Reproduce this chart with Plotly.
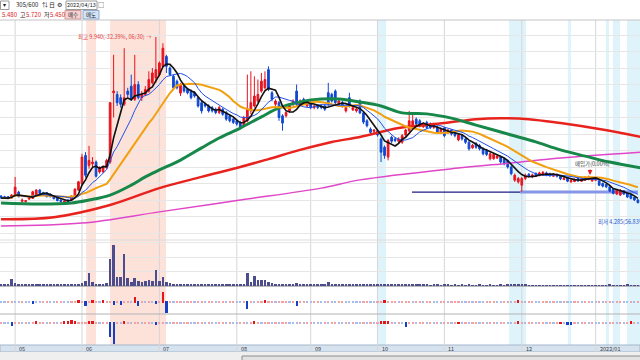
import plotly.graph_objects as go
import pandas as pd

# ---------------- data (trading-day index 0..181, late Apr 2021 .. mid Jan 2022) ----------------
opens = [5.12,5.10,5.10,5.06,5.12,5.24,4.96,4.95,5.03,5.05,
5.15,5.30,5.22,5.22,5.18,5.10,5.05,5.00,4.93,5.00,
5.00,5.10,5.30,5.50,6.35,6.05,6.10,6.15,5.85,5.85,
5.97,6.15,8.25,8.20,8.10,7.90,8.30,8.45,8.05,8.50,
8.10,8.20,8.30,8.55,8.70,8.80,9.05,9.35,9.00,8.75,
8.60,8.24,8.45,8.35,8.30,8.25,8.10,7.95,7.90,7.85,
7.80,7.75,7.65,7.75,7.65,7.55,7.45,7.40,7.35,7.25,
7.40,7.70,7.85,8.00,8.30,8.40,8.95,8.25,7.90,7.95,
7.55,7.55,7.70,7.90,8.30,7.90,8.05,7.85,7.95,7.80,
7.85,7.85,7.85,8.25,8.20,8.30,7.90,7.95,7.70,8.10,
7.73,7.70,8.00,7.64,7.40,7.15,7.08,7.10,6.85,6.60,
6.30,6.90,6.85,6.78,6.75,6.97,7.10,7.25,7.45,7.40,
7.22,7.35,7.30,7.20,7.20,7.03,7.18,7.05,7.12,7.00,
6.82,6.95,6.85,6.75,6.58,6.72,6.65,6.55,6.50,6.25,
6.25,6.27,6.30,6.25,6.20,6.00,5.60,5.55,5.45,5.65,
5.78,5.70,5.80,5.74,5.76,5.82,5.80,5.72,5.78,5.72,
5.62,5.68,5.55,5.56,5.65,5.57,5.60,5.63,5.58,5.60,
5.58,5.50,5.47,5.40,5.33,5.18,5.15,5.28,5.20,5.15,
5.08,5.00]

highs = [5.15,5.13,5.12,5.18,5.70,5.28,5.05,5.00,5.12,5.28,
5.33,5.33,5.25,5.24,5.20,5.12,5.07,5.02,4.99,5.02,
5.14,5.35,5.58,6.40,6.45,6.64,6.30,6.20,6.02,6.05,
6.25,7.95,9.40,8.30,8.20,9.60,8.40,8.80,9.40,8.60,
8.30,8.45,8.90,9.00,9.94,9.20,9.75,9.40,9.05,8.80,
8.65,8.55,8.50,8.40,8.35,8.30,8.15,8.00,7.95,7.90,
7.85,7.80,7.85,7.80,7.70,7.60,7.50,7.45,7.40,7.55,
8.80,8.90,8.75,8.65,8.85,8.90,9.05,8.30,8.05,8.00,
7.60,7.70,7.90,8.05,8.50,8.05,8.10,8.00,8.00,7.90,
7.90,7.90,7.90,8.55,8.25,8.35,8.05,8.00,7.85,8.25,
7.85,7.80,8.05,7.68,7.45,7.20,7.15,7.15,6.90,6.65,
6.85,6.95,6.90,6.90,7.00,7.15,7.70,7.60,7.50,7.45,
7.35,7.40,7.35,7.30,7.25,7.20,7.22,7.15,7.15,7.05,
7.00,7.00,6.90,6.80,6.70,6.75,6.70,6.60,6.55,6.45,
6.42,6.36,6.35,6.28,6.22,6.05,5.80,5.70,5.70,5.80,
5.82,5.80,5.84,5.86,5.88,5.86,5.83,5.82,5.80,5.75,
5.70,5.70,5.64,5.66,5.68,5.68,5.72,5.74,5.70,5.70,
5.62,5.53,5.50,5.42,5.36,5.33,5.33,5.30,5.22,5.17,
5.10,5.03]

lows = [5.04,5.04,5.02,5.04,5.10,5.08,4.88,4.92,5.00,5.03,
5.12,5.18,5.13,5.08,5.08,5.02,4.96,4.93,4.90,4.92,
4.98,5.08,5.28,5.45,5.68,5.95,6.00,5.68,5.80,5.82,
5.95,6.10,7.50,7.85,7.80,7.85,8.10,8.00,8.00,8.05,
8.00,8.15,8.25,8.50,8.55,8.75,9.00,8.85,8.75,8.35,
8.35,8.15,8.25,8.20,8.05,8.10,7.80,7.62,7.80,7.65,
7.65,7.60,7.60,7.55,7.40,7.35,7.30,7.25,7.15,7.20,
7.35,7.60,7.80,7.95,8.25,8.35,8.30,8.00,7.85,7.40,
7.10,7.50,7.65,7.85,7.85,7.85,7.90,7.80,7.75,7.75,
7.75,7.75,7.70,7.85,7.95,7.90,7.85,7.80,7.65,7.80,
7.70,7.65,7.60,7.30,7.20,7.00,7.02,6.92,6.15,6.25,
6.20,6.72,6.75,6.72,6.70,6.92,7.05,7.20,7.25,7.20,
7.18,7.15,7.15,7.15,7.00,7.00,6.90,7.00,6.95,6.90,
6.78,6.80,6.70,6.50,6.55,6.55,6.50,6.35,6.33,6.20,
6.22,6.24,6.10,6.05,5.95,5.75,5.55,5.50,5.25,5.60,
5.68,5.66,5.70,5.72,5.74,5.72,5.70,5.70,5.68,5.60,
5.60,5.54,5.52,5.54,5.55,5.55,5.58,5.60,5.55,5.57,
5.42,5.38,5.36,5.24,5.17,5.15,5.12,5.15,5.06,5.02,
4.97,4.90]

closes = [5.06,5.06,5.05,5.15,5.39,5.10,5.00,4.98,5.10,5.25,
5.30,5.20,5.15,5.10,5.10,5.04,4.98,4.95,4.97,4.94,
5.12,5.33,5.55,6.30,5.75,6.20,6.15,5.72,5.98,6.00,
6.20,7.95,8.30,7.95,7.90,8.10,8.20,8.05,8.50,8.10,
8.20,8.35,8.65,8.85,8.95,9.15,9.60,9.05,8.80,8.40,
8.40,8.50,8.30,8.25,8.10,8.15,7.85,7.70,7.85,7.70,
7.70,7.65,7.80,7.60,7.45,7.40,7.35,7.30,7.20,7.50,
7.75,7.95,8.15,8.20,8.60,8.65,8.35,8.05,8.00,7.50,
7.33,7.65,7.85,8.00,7.90,8.00,7.95,7.95,7.80,7.85,
7.80,7.80,7.75,7.90,8.00,7.95,8.00,7.85,7.80,7.85,
7.80,7.76,7.64,7.36,7.25,7.05,7.12,6.97,6.45,6.35,
6.80,6.78,6.80,6.85,6.95,7.12,7.40,7.40,7.30,7.25,
7.30,7.20,7.20,7.27,7.05,7.15,6.95,7.12,7.00,6.95,
6.97,6.85,6.75,6.55,6.66,6.60,6.55,6.40,6.38,6.40,
6.38,6.33,6.15,6.10,6.00,5.80,5.75,5.65,5.65,5.75,
5.72,5.76,5.74,5.82,5.84,5.76,5.74,5.78,5.72,5.64,
5.66,5.57,5.60,5.62,5.58,5.64,5.68,5.70,5.66,5.67,
5.45,5.42,5.40,5.27,5.20,5.30,5.30,5.18,5.09,5.05,
5.00,4.92]

volume = [0.12,0.10,0.15,0.50,0.20,0.12,0.10,0.08,0.10,0.12,
0.15,0.10,0.08,0.08,0.07,0.07,0.08,0.07,0.08,0.07,
0.10,0.12,0.15,0.20,0.35,0.90,0.25,0.15,0.12,0.12,
0.20,1.90,2.85,0.60,0.60,2.20,0.55,0.30,0.55,0.35,
0.28,0.35,0.40,0.35,1.10,0.35,0.60,0.25,0.20,0.15,
0.15,0.15,0.12,0.10,0.10,0.10,0.12,0.10,0.08,0.08,
0.08,0.08,0.07,0.08,0.08,0.07,0.07,0.08,0.10,0.15,
0.90,0.30,0.70,0.40,0.40,0.40,0.30,0.20,0.15,0.15,
0.12,0.10,0.10,0.10,0.20,0.10,0.08,0.08,0.07,0.08,
0.08,0.07,0.08,0.30,0.15,0.12,0.10,0.08,0.07,0.10,
0.08,0.08,0.10,0.08,0.08,0.08,0.07,0.07,0.12,0.08,
0.08,0.07,0.07,0.07,0.07,0.08,0.12,0.08,0.07,0.07,
0.07,0.07,0.06,0.07,0.07,0.06,0.07,0.07,0.06,0.07,
0.06,0.07,0.06,0.07,0.06,0.06,0.07,0.06,0.06,0.07,
0.06,0.06,0.07,0.06,0.07,0.07,0.08,0.07,0.07,0.07,
0.06,0.06,0.06,0.06,0.06,0.06,0.06,0.06,0.06,0.06,
0.06,0.06,0.06,0.06,0.06,0.06,0.06,0.06,0.06,0.06,
0.06,0.06,0.06,0.07,0.06,0.06,0.06,0.06,0.07,0.06,
0.06,0.06]

flow_a = [-1,-1,1,1,-1,-1,1,-1,-1,-2,-1,-1,1,1,-1,-1,1,1,-1,-1,
1,1,2.5,1,-3.7,1,2,1,-1,2,1,1,-3,1,-3,1,1,-1,4.7,-3.7,
1,-1,1,-1,-2,1,10.5,-11,1,-1,1,1,-1,1,1,-1,1,1,-1,1,
1,-1,1,1,-1,1,1,-1,-1,1,-7,1,-1,1,1,2,1,1,-1,1,
1,1,-1,1,-4,1,1,-1,-1,1,1,-1,-1,1,-1,-1,1,1,-1,-1,
-1,-1,-1,1,1,-1,-1,1,1,2,1,1,1,-1,1,1,1,-1,1,1,
-1,1,1,-1,-1,1,1,-1,1,1,1,-1,-1,1,-1,1,-1,-1,1,1,
1,-1,-1,1,1,-1,1,2,1,-1,1,1,-1,-1,1,1,-1,1,-1,-1,
1,-1,-1,1,1,-1,1,1,-1,-1,1,-1,1,1,-1,1,1,-1,-1,1,
-1,1]

flow_b = [1,-1,-1,-3,1,1,-1,1,-1,1,2,1,1,-1,1,1,-1,1,2,2,
3,2,1,1,1,2,2,1,-1,1,1,-14,-21,1,-1,2,1,-1,1,1,
-1,1,1,-1,-2,1,1,-1,-1,1,1,-1,1,1,-1,-1,1,1,-1,1,
-1,-1,1,1,-1,1,-1,-1,1,1,-1,1,2,1,-1,1,1,-1,1,-1,
1,1,-1,-1,-1,1,-1,1,1,-1,-1,-1,1,-1,1,1,-1,-1,1,-1,
1,-1,-1,1,-1,1,-1,1,2,2,2,1,-1,1,-1,-4,1,1,-1,1,
1,-1,1,-1,1,-1,1,1,-1,1,1.5,-1,1,-1,1,1,-1,1,-1,1,
1,-1,1,1,-1,-1,1,2,1,-1,1,1,-1,1,1,-1,1,-1,1,1.5,
-1,-1.5,-1.5,1,-1,1,1,-1,1,-1,-1,1,-1,1,1,-1,1,-1,1,2,
1,-1]

# long moving averages at sample days
ma60_days = [0,11,20,25,31,37,41,45,51,57,62,68,74,79,85,91,96,102,108,114,121,128,135,145,152,159,166,173,182]
ma60_vals = [4.91,4.88,4.91,5.00,5.15,5.45,5.70,5.91,6.21,6.58,6.88,7.18,7.52,7.79,7.97,8.06,8.06,7.97,7.85,7.64,7.61,7.48,7.27,6.97,6.76,6.52,6.33,6.15,5.97]
ma120_days = [0,15,31,45,57,68,76,85,94,102,113,126,135,142,150,159,170,182]
ma120_vals = [4.42,4.48,4.85,5.36,5.70,6.00,6.24,6.52,6.76,6.91,7.18,7.33,7.45,7.48,7.45,7.33,7.15,6.91]
ma240_days = [0,23,45,68,91,102,130,145,159,182]
ma240_vals = [4.21,4.30,4.64,5.00,5.36,5.61,5.97,6.12,6.27,6.45]

month_ticks = [4, 23, 45, 67, 88, 107, 126, 148, 169]
month_labels = ["05", "06", "07", "08", "09", "10", "11", "12", "2022/01"]

pink_bands = [(24.2, 27.0), (31.0, 46.9)]
blue_bands = [(107.1, 109.4), (144.4, 149.2), (161.1, 162.0), (171.9, 172.8), (173.9, 175.9), (177.9, 181.8)]

support_price = 5.24

# ---------------- figure ----------------
RED = "#e8141e"
BLUE = "#1048d0"
FONT = "Noto Sans CJK KR, Noto Sans, sans-serif"
W, H = 640, 360

def py(px):
    return 1 - px / H

def pxx(px):
    return px / W

idx = list(range(len(closes)))
cs = pd.Series(closes)
ma5 = cs.rolling(5, min_periods=1).mean()
ma10 = cs.rolling(10, min_periods=1).mean()
ma20 = cs.rolling(20, min_periods=1).mean()

fig = go.Figure()

fig.add_trace(go.Scatter(x=ma240_days, y=ma240_vals, mode="lines", line=dict(color="#e046c8", width=1.5, shape="spline"), yaxis="y", hoverinfo="skip"))
fig.add_trace(go.Scatter(x=ma120_days, y=ma120_vals, mode="lines", line=dict(color="#e8231e", width=2.5, shape="spline"), yaxis="y", hoverinfo="skip"))
fig.add_trace(go.Scatter(x=ma60_days, y=ma60_vals, mode="lines", line=dict(color="#17884a", width=3, shape="spline"), yaxis="y", hoverinfo="skip"))
fig.add_trace(go.Scatter(x=idx, y=ma20, mode="lines", line=dict(color="#f0a010", width=2), yaxis="y", hoverinfo="skip"))

fig.add_trace(go.Candlestick(
    x=idx, open=opens, high=highs, low=lows, close=closes,
    increasing=dict(line=dict(color=RED, width=1), fillcolor=RED),
    decreasing=dict(line=dict(color=BLUE, width=1), fillcolor=BLUE),
    whiskerwidth=0, yaxis="y", hoverinfo="skip"))

fig.add_trace(go.Scatter(x=idx, y=ma10, mode="lines", line=dict(color="#2050e8", width=1), yaxis="y", hoverinfo="skip"))
fig.add_trace(go.Scatter(x=idx, y=ma5, mode="lines", line=dict(color="#111111", width=1.6), yaxis="y", hoverinfo="skip"))

fig.add_trace(go.Bar(x=idx, y=volume, width=0.72, marker=dict(color="#4d4d8e", line=dict(width=0)), yaxis="y2", hoverinfo="skip"))

def pcolor(v):
    if v >= 1.5:
        return "#e3161c"
    if v > 0:
        return "#f2a2a2"
    if v <= -1.5:
        return "#1440c8"
    return "#a6bcef"

for vals, ax in ((flow_a, "y3"), (flow_b, "y4")):
    base = [-0.7 if v > 0 else 0.7 for v in vals]
    length = [v + 0.7 if v > 0 else v - 0.7 for v in vals]
    fig.add_trace(go.Bar(x=idx, y=length, base=base, width=0.62,
                         marker=dict(color=[pcolor(v) for v in vals], line=dict(width=0)),
                         yaxis=ax, hoverinfo="skip"))

shapes = []
for a, b in pink_bands:
    shapes.append(dict(type="rect", xref="x", yref="paper", x0=a, x1=b, y0=py(345), y1=py(20),
                       fillcolor="#fde2da", line=dict(width=0), layer="below"))
for a, b in blue_bands:
    shapes.append(dict(type="rect", xref="x", yref="paper", x0=a, x1=b, y0=py(345), y1=py(20),
                       fillcolor="#dff3fb", line=dict(width=0), layer="below"))
shapes.append(dict(type="rect", xref="paper", yref="paper", x0=0, x1=1, y0=py(352), y1=py(345),
                   fillcolor="#d6e2ee", line=dict(color="#a3b7cb", width=1), layer="below"))
shapes.append(dict(type="rect", xref="paper", yref="paper", x0=0, x1=1, y0=0, y1=py(352),
                   fillcolor="#efefef", line=dict(width=0), layer="below"))
shapes.append(dict(type="rect", xref="paper", yref="paper", x0=pxx(242), x1=1.01, y0=-0.01, y1=py(356),
                   fillcolor="#e2e2e2", line=dict(color="#8c8c8c", width=1), layer="above"))
for t in month_ticks:
    shapes.append(dict(type="line", xref="x", yref="paper", x0=t, x1=t, y0=py(352), y1=py(20),
                       line=dict(color="#d6d6d6", width=1), layer="below"))
shapes.append(dict(type="line", xref="paper", yref="paper", x0=0, x1=1, y0=py(20), y1=py(20), line=dict(color="#c4c4c4", width=1)))
shapes.append(dict(type="line", xref="paper", yref="paper", x0=0, x1=1, y0=py(240), y1=py(240), line=dict(color="#dcdcdc", width=1), layer="below"))
shapes.append(dict(type="line", xref="paper", yref="paper", x0=0, x1=1, y0=py(286), y1=py(286), line=dict(color="#a4a4a4", width=1.5), layer="below"))
shapes.append(dict(type="line", xref="paper", yref="paper", x0=0, x1=1, y0=py(314), y1=py(314), line=dict(color="#b4b4b4", width=1.2), layer="below"))
shapes.append(dict(type="line", xref="x", yref="y", x0=116.8, x1=147.5, y0=support_price, y1=support_price,
                   line=dict(color="#1c1c80", width=1.2), layer="below"))
shapes.append(dict(type="line", xref="x", yref="y", x0=147.5, x1=181.0, y0=support_price, y1=support_price,
                   line=dict(color="#8696e6", width=3), layer="below"))
# header boxes
shapes.append(dict(type="rect", xref="paper", yref="paper", x0=pxx(0.5), x1=pxx(9), y0=py(9.5), y1=py(1),
                   fillcolor="white", line=dict(color="#9a9a9a", width=1)))
shapes.append(dict(type="rect", xref="paper", yref="paper", x0=pxx(66), x1=pxx(97), y0=py(9.5), y1=py(1),
                   fillcolor="white", line=dict(color="#9a9a9a", width=1)))
shapes.append(dict(type="rect", xref="paper", yref="paper", x0=pxx(65), x1=pxx(81), y0=py(19), y1=py(10.5),
                   fillcolor="#f7d2d2", line=dict(color="#cf9a9a", width=1)))
shapes.append(dict(type="rect", xref="paper", yref="paper", x0=pxx(83), x1=pxx(99), y0=py(19), y1=py(10.5),
                   fillcolor="#d3e4f7", line=dict(color="#93acd0", width=1)))

ann = []
def txt(x, y, s, color="#222", size=6, anchor="left", xref="paper", yref="paper", **kw):
    d = dict(x=x, y=y, text=s, showarrow=False, xref=xref, yref=yref, xanchor=anchor, yanchor="middle",
             font=dict(family=FONT, size=size, color=color))
    d.update(kw)
    ann.append(d)

# header row 1
txt(pxx(4.8), py(5), "▾", size=6, anchor="center")
txt(pxx(14), py(5), "305/600", size=6)
txt(pxx(45), py(5), "⇅", size=6, anchor="center")
txt(pxx(52), py(5), "日", size=6, anchor="center")
txt(pxx(59), py(5), "⚙", size=6, anchor="center")
txt(pxx(81.5), py(5), "2022/04/13", size=5.5, anchor="center")
txt(pxx(101), py(5), "□", size=6, anchor="center")
# header row 2
txt(pxx(0), py(14.5), "5.480", color="#e02020", size=6)
txt(pxx(17.5), py(14.5), "고", size=6)
txt(pxx(24), py(14.5), "5.720", color="#e02020", size=6)
txt(pxx(41.5), py(14.5), "저", size=6)
txt(pxx(48), py(14.5), "5.450", color="#e02020", size=6)
txt(pxx(73), py(14.7), "매수", size=5.5, anchor="center")
txt(pxx(91), py(14.7), "매도", size=5.5, anchor="center")

for t, lab in zip(month_ticks, month_labels):
    txt(t, py(348.6), lab, color="#3a3a3a", size=5.5, xref="x", xshift=2)

txt(44, 9.94, "최고 9.940(-32.39%, 06/30) →", color="#e43a3a", size=5.5, anchor="right", xref="x", yref="y", xshift=-2)
txt(169, 4.285, "최저 4.285(56.83%,", color="#2a52c8", size=5.5, anchor="left", xref="x", yref="y", yshift=2)
txt(168.2, 6.09, "매입가(0.00%)", color="#454545", size=5.5, anchor="center", xref="x", yref="y")
ann.append(dict(x=167.4, y=5.76, xref="x", yref="y", text="", showarrow=True, ax=0, ay=-7,
                arrowhead=2, arrowsize=0.8, arrowwidth=1.2, arrowcolor="#e02020"))

fig.update_layout(
    width=W, height=H, margin=dict(l=0, r=0, t=0, b=0),
    paper_bgcolor="white", plot_bgcolor="white", showlegend=False, bargap=0,
    xaxis=dict(domain=[0, 1], range=[-0.3, 181.6], showgrid=False, zeroline=False,
               showticklabels=False, ticks="", rangeslider=dict(visible=False), fixedrange=True),
    yaxis=dict(domain=[py(240), py(20)], range=[(365 - 240) / 33, (365 - 20) / 33], dtick=0.5, tick0=0,
               showgrid=True, gridcolor="#e6e6e6", gridwidth=1, zeroline=False, showticklabels=False, ticks=""),
    yaxis2=dict(domain=[py(286), py(240)], range=[0, 3.2], dtick=1, showgrid=True, gridcolor="#e6e6e6",
                zeroline=False, showticklabels=False, ticks=""),
    yaxis3=dict(domain=[py(314), py(286)], range=[-12, 16], showgrid=False, zeroline=False, showticklabels=False, ticks=""),
    yaxis4=dict(domain=[py(345), py(314)], range=[-22, 9], showgrid=False, zeroline=False, showticklabels=False, ticks=""),
    shapes=shapes, annotations=ann,
)

fig.write_html("out.html", config={"displayModeBar": False},
               post_script="document.body.style.margin='0';document.body.style.overflow='hidden';")
